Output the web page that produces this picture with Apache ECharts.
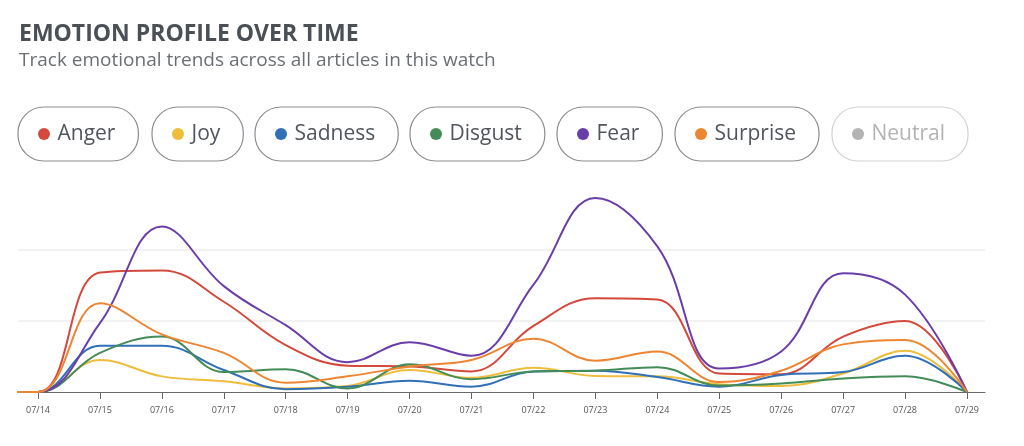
<!DOCTYPE html>
<html>
<head>
<meta charset="utf-8">
<title>Emotion profile over time</title>
<script src="https://cdn.jsdelivr.net/npm/echarts@6/dist/echarts.min.js"></script>
<style>
  html, body { margin: 0; padding: 0; background: #fff; }
  #chart { width: 1024px; height: 446px; }
</style>
</head>
<body>
<div id="chart"></div>
<script>
'use strict';

// dates on the x axis
const days = ['07/14', '07/15', '07/16', '07/17', '07/18', '07/19', '07/20', '07/21',
  '07/22', '07/23', '07/24', '07/25', '07/26', '07/27', '07/28', '07/29'];

// emotion scores per day
const anger    = [0, 16.8, 17.1, 12.7, 6.6, 3.7, 3.6, 2.9, 9.3, 13.2, 13.0, 2.6, 2.5, 7.8, 10.0, 0];
const joy      = [0, 4.5, 2.2, 1.5, 0.5, 0.85, 3.1, 2.0, 3.4, 2.25, 2.2, 1.1, 0.85, 2.6, 5.8, 0];
const sadness  = [0, 6.5, 6.5, 3.1, 0.4, 0.75, 1.6, 0.75, 2.9, 3.0, 2.1, 0.75, 2.4, 2.8, 5.1, 0];
const disgust  = [0, 5.5, 7.8, 2.8, 3.2, 0.5, 3.9, 1.8, 2.9, 3.0, 3.5, 0.9, 1.2, 1.9, 2.2, 0];
const fear     = [0, 9.7, 23.3, 14.9, 9.4, 4.2, 7.0, 5.1, 15.1, 27.3, 20.5, 3.3, 5.7, 16.7, 13.7, 0];
const surprise = [0, 12.5, 8.1, 5.5, 1.3, 2.2, 3.6, 4.5, 7.5, 4.4, 5.7, 1.4, 3.0, 6.7, 7.3, 0];
const neutral  = []; // switched off in the picture

// the lines run in flat at zero from the left edge, so the day before 07/14 is 0 too
const leadIn = 0;

const names  = ['Anger', 'Joy', 'Sadness', 'Disgust', 'Fear', 'Surprise', 'Neutral'];
const values = [anger, joy, sadness, disgust, fear, surprise, neutral];
const colors = ['#d3493b', '#eebd3c', '#3170b6', '#438b57', '#6a3ea9', '#ec8633', '#c9c9c9'];

// left edge of each legend pill
const pillLeft = [18, 152, 255, 410, 557, 675, 832];

const chart = echarts.init(document.getElementById('chart'));

// one legend per pill so each gets its own rounded border
const legends = names.map((n, i) => ({
  data: [n],
  left: pillLeft[i],
  top: 107,
  icon: 'circle',
  itemWidth: 17,
  itemHeight: 12,
  padding: [16, 23, 16, 20],
  borderColor: n === 'Neutral' ? '#d2d2d2' : '#8a8d91',
  borderWidth: 1.2,
  borderRadius: 26,
  selected: n === 'Neutral' ? { Neutral: false } : undefined,
  inactiveColor: '#b3b3b3',
  textStyle: {
    fontFamily: 'Open Sans',
    fontSize: 21,
    color: '#51565c',
    lineHeight: 22
  }
}));

// x position of the day columns: 07/14 sits 20px right of the plot edge,
// 07/29 sits 18px left of the right edge, 62px per day
const dayStep = (967 - 38) / 15;

const series = names.map((n, i) => ({
  name: n,
  type: 'line',
  xAxisIndex: 0,
  yAxisIndex: 0,
  data: values[i].length ? [[-1, leadIn]].concat(values[i].map((v, d) => [d, v])) : [],
  smooth: 0.4,
  showSymbol: false,
  clip: true,
  color: colors[i],
  lineStyle: { width: 2, color: colors[i] },
  emphasis: { disabled: true }
}));

const option = {
  backgroundColor: '#fff',
  animation: false,
  title: {
    left: 14,
    top: 18,
    text: 'EMOTION PROFILE OVER TIME',
    subtext: 'Track emotional trends across all articles in this watch',
    itemGap: 5,
    textStyle: {
      fontFamily: 'Open Sans',
      fontWeight: 'bold',
      fontSize: 23,
      color: '#4b5057'
    },
    subtextStyle: {
      fontFamily: 'Open Sans',
      fontSize: 19,
      color: '#6b6f74'
    }
  },
  legend: legends,
  grid: [
    { left: 18, right: 39, top: 193, bottom: 54 },
    { left: 38, right: 57, top: 193, bottom: 54 }
  ],
  xAxis: [
    {
      type: 'value',
      gridIndex: 0,
      min: -20 / dayStep,
      max: 15 + 18 / dayStep,
      axisLine: { show: true, onZero: false, lineStyle: { color: '#6a6a6a', width: 1.2 } },
      axisTick: { show: false },
      axisLabel: { show: false },
      splitLine: { show: false }
    },
    {
      type: 'category',
      gridIndex: 1,
      data: days,
      boundaryGap: false,
      axisLine: { show: false },
      axisTick: { show: true, length: 7, lineStyle: { color: '#666' } },
      axisLabel: { fontSize: 9, color: '#555', margin: 14, fontFamily: 'Open Sans' },
      splitLine: { show: false }
    }
  ],
  yAxis: [
    {
      type: 'value',
      gridIndex: 0,
      min: 0,
      max: 28,
      interval: 10,
      axisLine: { show: false },
      axisTick: { show: false },
      axisLabel: { show: false },
      splitLine: {
        show: true,
        showMinLine: false,
        showMaxLine: false,
        lineStyle: { color: '#eeeeee', width: 1.5 }
      }
    },
    {
      type: 'value',
      gridIndex: 1,
      min: 0,
      max: 28,
      show: false
    }
  ],
  series: series
};

chart.setOption(option);
</script>
</body>
</html>
